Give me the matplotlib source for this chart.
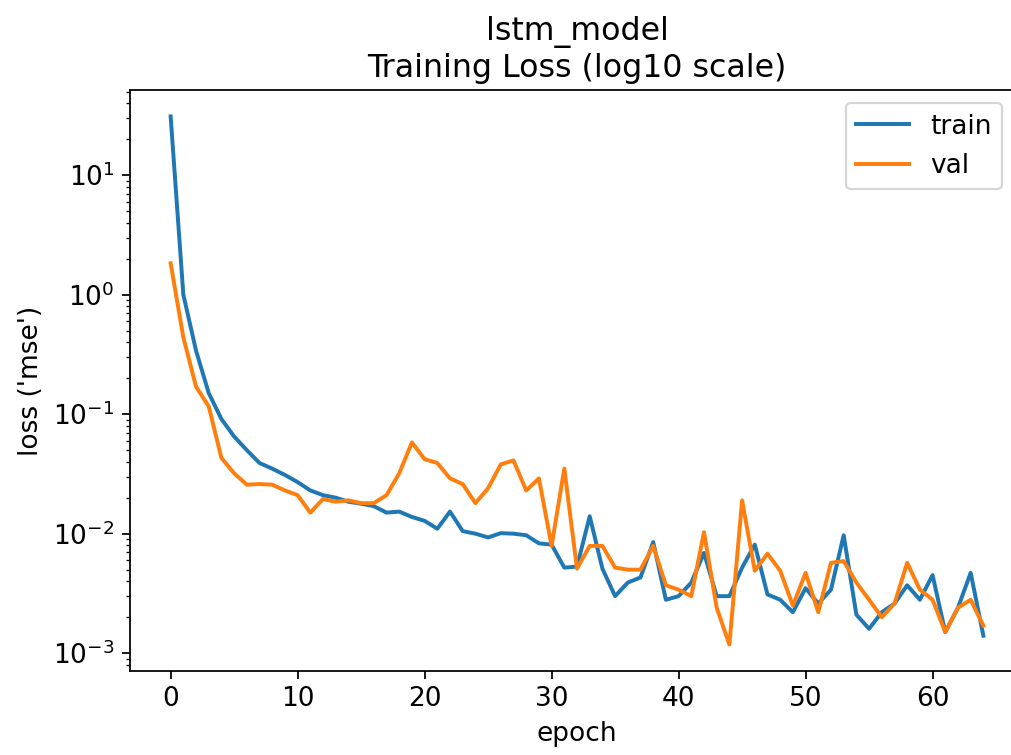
import matplotlib
matplotlib.use('Agg')
import matplotlib.pyplot as plt

# loss history
train_loss = [31.0, 1.0, 0.34, 0.15, 0.091, 0.065, 0.05, 0.039, 0.035, 0.031,
              0.027, 0.023, 0.021, 0.020, 0.0185, 0.0178, 0.017, 0.0150, 0.0153, 0.0138,
              0.0128, 0.0110, 0.0153, 0.0105, 0.0100, 0.0093, 0.0101, 0.0100, 0.0097, 0.0083,
              0.0081, 0.0052, 0.0053, 0.014, 0.0051, 0.0030, 0.0039, 0.0043, 0.0085, 0.0028,
              0.0030, 0.0039, 0.0069, 0.0030, 0.0030, 0.0052, 0.0081, 0.0031, 0.0028, 0.0022,
              0.0035, 0.0026, 0.0034, 0.0097, 0.0021, 0.0016, 0.0022, 0.0026, 0.0037, 0.0028,
              0.0045, 0.0015, 0.0024, 0.0047, 0.0014]
val_loss = [1.83, 0.44, 0.17, 0.116, 0.043, 0.032, 0.0257, 0.026, 0.0257, 0.023,
            0.021, 0.015, 0.0195, 0.0185, 0.019, 0.018, 0.018, 0.021, 0.032, 0.058,
            0.042, 0.039, 0.029, 0.026, 0.018, 0.024, 0.038, 0.041, 0.023, 0.029,
            0.0079, 0.035, 0.0051, 0.0079, 0.0079, 0.0052, 0.0050, 0.0050, 0.0079, 0.0037,
            0.0034, 0.0030, 0.0103, 0.0024, 0.00118, 0.019, 0.0049, 0.0068, 0.0049, 0.0025,
            0.0047, 0.0022, 0.0057, 0.0059, 0.0039, 0.0028, 0.0020, 0.0026, 0.0057, 0.0034,
            0.0028, 0.0015, 0.0024, 0.0028, 0.0017]
epochs = list(range(len(train_loss)))

plt.rcParams['font.size'] = 12
plt.rcParams['lines.linewidth'] = 1.8

fig = plt.figure(figsize=(1011 / 158, 755 / 158), dpi=158)
# axes runs a little past the right edge, as in the reference
ax = fig.add_axes([130 / 1011, 84 / 755, 894 / 1011, 581 / 755])

ax.plot(epochs, train_loss, label='train')
ax.plot(epochs, val_loss, label='val')
ax.set_yscale('log')

ax.set_title('lstm_model\nTraining Loss (log10 scale)')
ax.set_xlabel('epoch')
ax.set_ylabel("loss ('mse')")
ax.legend(loc='upper right', bbox_to_anchor=(0.99, 1.0))

fig.savefig('out.png', dpi=158)
